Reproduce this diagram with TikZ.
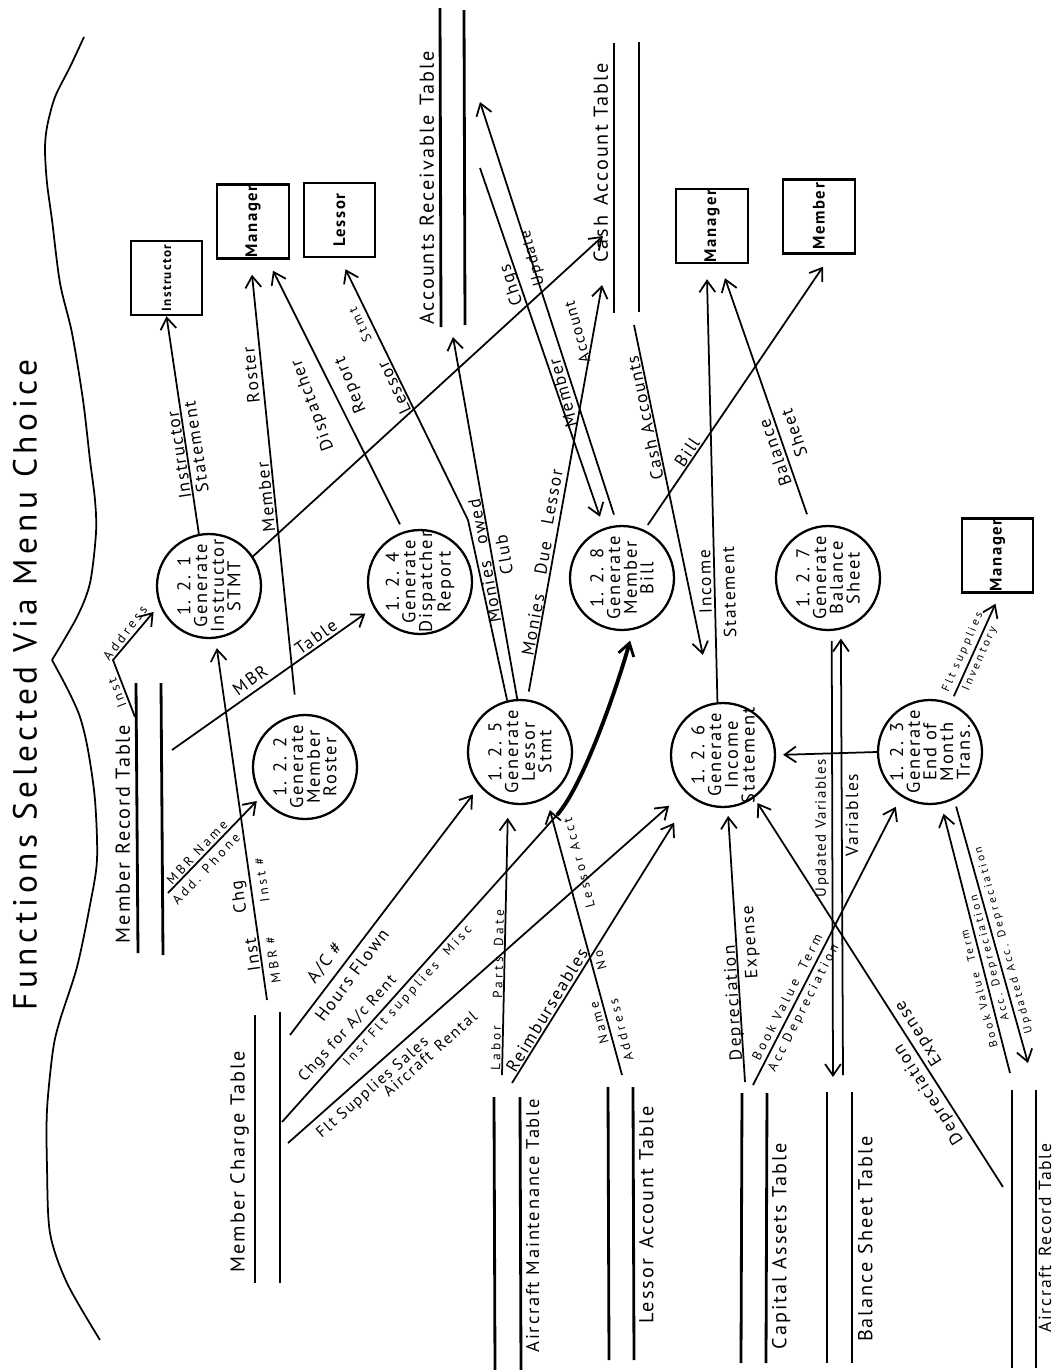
\documentclass[tikz,border=0pt]{standalone}
\usepackage{fontspec}
\setmainfont{PT Sans}
\newfontfamily\hand[LetterSpace=10]{PT Sans}
\newfontfamily\handw[LetterSpace=25]{PT Sans}
\newfontfamily\titlef[LetterSpace=14]{PT Sans}
\usetikzlibrary{arrows.meta,calc}
\begin{document}
\begin{tikzpicture}[x=0.02cm,y=-0.02cm,
 every node/.style={inner sep=0pt},
 flow/.style={line width=1pt,-{Straight Barb[length=6.5pt,width=9pt,line width=1pt]}},
 heavy/.style={line width=2.2pt,-{Straight Barb[length=7pt,width=9pt,line width=1.6pt]}},
 conn/.style={line width=1pt},
 proc/.style={circle,draw,line width=1.3pt,minimum size=2.08cm},
 ptext/.style={rotate=90,align=center,font=\hand\fontsize{10.5}{9.5}\selectfont},
 ent/.style={draw,line width=1.4pt,minimum width=1.43cm,minimum height=1.48cm},
 etext/.style={rotate=90,font=\hand\bfseries\fontsize{9.5}{10}\selectfont},
 storeline/.style={line width=1.6pt},
 slab/.style={rotate=90,inner sep=1.5pt,font=\hand\fontsize{11.5}{12}\selectfont},
 lab/.style={font=\hand\fontsize{10}{10}\selectfont},
 labm/.style={font=\hand\fontsize{9}{9}\selectfont},
 labs/.style={font=\handw\fontsize{7.5}{8}\selectfont},
 labt/.style={font=\handw\fontsize{6.5}{7}\selectfont},
 brace/.style={line width=1pt}]
\useasboundingbox (0,0) rectangle (1055,1370);

% title and brace
\node[rotate=90,font=\titlef\fontsize{19}{20}\selectfont] (title) at (25,685) {Functions Selected Via Menu Choice};
\draw[brace] plot[smooth] coordinates {(84,37) (70,67) (55,97) (47,127) (45,150) (47,183) (52,220) (60,283) (72,333) (83,400) (90,460) (95,500) (96,533) (90,583) (77,617) (52,660)};
\draw[brace] plot[smooth] coordinates {(52,660) (68,690) (80,717) (88,750) (95,800) (97,860) (90,905) (77,967) (60,1020) (53,1050) (47,1110) (47,1167) (50,1233) (67,1283) (100,1340)};

% processes
\node[proc] (c121) at (209,586) {};
\node[ptext] (t121) at (c121) {1. 2. 1\\Generate\\Instructor\\STMT};
\node[proc] (c122) at (305,767) {};
\node[ptext] (t122) at (c122) {1. 2. 2\\Generate\\Member\\Roster};
\node[proc] (c124) at (420,582) {};
\node[ptext] (t124) at (c124) {1. 2. 4\\Generate\\Dispatcher\\Report};
\node[proc] (c125) at (520,752) {};
\node[ptext] (t125) at (c125) {1. 2. 5\\Generate\\Lessor\\Stmt};
\node[proc] (c128) at (622,578) {};
\node[ptext] (t128) at (c128) {1. 2. 8\\Generate\\Member\\Bill};
\node[proc] (c126) at (723,755) {};
\node[ptext] (t126) at (c126) {1. 2. 6\\Generate\\Income\\Statement};
\node[proc] (c127) at (828,578) {};
\node[ptext] (t127) at (c127) {1. 2. 7\\Generate\\Balance\\Sheet};
\node[proc] (c123) at (930,752) {};
\node[ptext] (t123) at (c123) {1. 2. 3\\Generate\\End of\\Month\\Trans.};

% external entities
\node[ent] (bInstr) at (166.5,278) {};
\node[etext,font=\hand\bfseries\fontsize{7.5}{8}\selectfont] (tInstr) at (bInstr) {Instructor};
\node[ent] (bMgr1) at (253,221.5) {};
\node[etext] (tMgr1) at (bMgr1) {Manager};
\node[ent] (bLessor) at (339.5,220) {};
\node[etext] (tLessor) at (bLessor) {Lessor};
\node[ent] (bMgr2) at (712,226) {};
\node[etext] (tMgr2) at (bMgr2) {Manager};
\node[ent] (bMember) at (819,216.5) {};
\node[etext] (tMember) at (bMember) {Member};
\node[ent] (bMgr3) at (997.5,555.5) {};
\node[etext] (tMgr3) at (bMgr3) {Manager};

% data stores
\draw[storeline] (136,683) -- (138,953);
\draw[storeline] (161,683) -- (163,955);
\node[slab,anchor=south] (sMR) at (133,834) {Member Record Table};
\draw[storeline] (255,1015) -- (255,1283);
\draw[storeline] (280,1012) -- (280,1283);
\node[slab,anchor=south] (sMC) at (252,1162) {Member Charge Table};
\draw[storeline] (440,8) -- (441,327);
\draw[storeline] (464,10) -- (465,325);
\node[slab,anchor=south] (sAR) at (437,188) {Accounts Receivable\enspace Table};
\draw[storeline] (614,43) -- (614,313);
\draw[storeline] (639,42) -- (639,312);
\node[slab,anchor=south] (sCA) at (611,163) {Cash\enspace Account Table};
\draw[storeline] (494,1097) -- (495,1370);
\draw[storeline] (520,1097) -- (521,1370);
\node[slab,anchor=north,font=\hand\fontsize{10.5}{11}\selectfont] (sAM) at (523,1226) {Aircraft Maintenance Table};
\draw[storeline] (608,1087) -- (609,1360);
\draw[storeline] (633,1087) -- (634,1360);
\node[slab,anchor=north] (sLA) at (636,1215) {Lessor\enspace Account Table};
\draw[storeline] (742,1093) -- (741,1363);
\draw[storeline] (767,1093) -- (766,1363);
\node[slab,anchor=north] (sCAs) at (769,1246) {Capital Assets Table};
\draw[storeline] (827,1092) -- (827,1363);
\draw[storeline] (852,1092) -- (852,1363);
\node[slab,anchor=north] (sBS) at (855,1239) {Balance Sheet Table};
\draw[storeline] (1012,1090) -- (1012,1368);
\draw[storeline] (1036,1090) -- (1036,1368);
\node[slab,anchor=north,inner sep=0.5pt,font=\hand\fontsize{10}{10}\selectfont] (sARec) at (1037.5,1238) {Aircraft\enspace Record Table};

% free ends and bends
\coordinate (k4) at (468,520);
\coordinate (mrOut1) at (172,750);
\coordinate (mrOut2) at (135,717);
\coordinate (k6) at (113,660);
\coordinate (mrOut3) at (168,893);
\coordinate (mcOut1) at (267,1000);
\coordinate (mcOut2) at (290,1035);
\coordinate (mcOut3) at (282,1122);
\coordinate (k31) at (557,815);
\coordinate (mcOut4) at (288,1143);
\coordinate (caIn1) at (603,236);
\coordinate (arIn1) at (453,337);
\coordinate (caIn2) at (602,285);
\coordinate (arOut) at (480,168);
\coordinate (arIn2) at (480,102);
\coordinate (caOut) at (634,325);
\coordinate (bsIn) at (833,1077);
\coordinate (bsOut) at (843,1075);
\coordinate (arcOut1) at (1010,1073);
\coordinate (arcIn) at (1028,1063);
\coordinate (capOut1) at (745,1082);
\coordinate (capOut2) at (753,1085);
\coordinate (arcOut2) at (1003,1187);
\coordinate (amOut1) at (502,1075);
\coordinate (amOut2) at (512,1083);
\coordinate (laOut) at (622,1075);

% connectors
\draw[flow] (c121.101) -- (bInstr.south);
\draw[flow,shorten <=0.4cm] (c122.99) -- ($(bMgr1.south)+(-1,15)$);
\draw[flow,shorten <=0.16cm] (c124.108) -- ($(bMgr1.south)+(20,11)$);
\draw[flow] (c125.104) -- (k4) -- ($(bLessor.south)+(6,11)$);
\draw[flow,shorten >=0.2cm] (mrOut1) -- (c124.209);
\draw[flow,shorten >=0.18cm] (mrOut2) -- (k6) -- (c121.201);
\draw[flow,shorten >=0.12cm] (mrOut3) -- (c122.214);
\draw[flow,shorten >=0.19cm] (mcOut1) -- (c121.277);
\draw[flow] (c121.34) -- (caIn1);
\draw[flow] (c125.93) -- (arIn1);
\draw[flow,shorten <=0.16cm] (c125.82) -- (caIn2);
\draw[flow,shorten >=0.24cm] (arOut) -- (c128.110);
\draw[flow,shorten <=0.22cm] (c128.95) -- (arIn2);
\draw[flow,shorten >=0.98cm] (caOut) -- (c126.101);
\draw[flow] (c126.96) -- ($(bMgr2.south)+(-5,15)$);
\draw[flow,shorten <=0.12cm] (c128.65) -- ($(bMember.south)+(4,12)$);
\draw[flow,shorten <=0.28cm] (c127.108) -- ($(bMgr2.south)+(13,14)$);
\draw[flow,shorten <=0.2cm] (c127.274) -- (bsIn);
\draw[flow,shorten >=0.18cm] (bsOut) -- (c127.284);
\draw[flow,shorten >=0.14cm] (c123.west) -- (c126.east);
\draw[flow,shorten <=0.15cm] (c123.67) -- ($(bMgr3.south)+(-2,10)$);
\draw[flow,shorten >=0.2cm] (arcOut1) -- (c123.282);
\draw[flow,shorten <=0.15cm] (c123.297) -- (arcIn);
\draw[flow,shorten >=0.16cm] (capOut1) -- (c126.275);
\draw[flow,shorten >=0.23cm] (capOut2) -- (c123.237);
\draw[flow,shorten >=0.12cm] (arcOut2) -- (c126.306);
\draw[flow,shorten >=0.28cm] (amOut1) -- (c125.257);
\draw[flow,shorten >=0.61cm] (amOut2) -- (c126.232);
\draw[flow,shorten >=0.42cm] (mcOut4) -- (c126.224);
\draw[flow,shorten >=0.21cm] (mcOut2) -- (c125.220);
\draw[flow,shorten >=0.25cm] (laOut) -- (c125.300);
\draw[conn] (mcOut3) -- (k31);
\draw[heavy,shorten >=0.22cm] (k31) .. controls (584,785) and (619,681) .. (c128.282);

% connector labels
\node[lab,rotate=98.5] (l1a) at (179,455) {Instructor};
\node[lab,rotate=98.5] (l1b) at (196,447) {Statement};
\node[lab,rotate=95.6] (l2a) at (266,497) {Member};
\node[lab,rotate=95.6] (l2b) at (251,375) {Roster};
\node[lab,rotate=110] (l3a) at (313,405) {Dispatcher};
\node[lab,rotate=112] (l3b) at (351,385) {Report};
\node[lab,rotate=115.5] (l4a) at (394,388) {Lessor};
\node[labs,rotate=115.5] (l4b) at (360,325) {Stmt};
\node[lab,rotate=35.6] (l5a) at (250,680) {MBR};
\node[lab,rotate=35.6] (l5b) at (316,637) {Table};
\node[labs,rotate=111] (l6a) at (117,693) {Inst};
\node[labs,rotate=53] (l6b) at (125,633) {Address};
\node[labs,rotate=47] (l7a) at (197,852) {MBR Name};
\node[labs,rotate=47] (l7b) at (206,869) {Add. Phone};
\node[lab,rotate=98] (l8a) at (252,955) {Inst};
\node[lab,rotate=98] (l8b) at (240,897) {Chg};
\node[labs,rotate=98] (l8c) at (273,960) {MBR \#};
\node[labs,rotate=98] (l8d) at (262,880) {Inst \#};
\node[lab,rotate=53.2] (l9a) at (325,963) {A/C \#};
\node[lab,rotate=53.2] (l9b) at (352,975) {Hours Flown};
\node[labm,rotate=47.8] (l10a) at (348,1029) {Chgs for A/c Rent};
\node[labs,rotate=47.8] (l10b) at (408,996) {Insr\enspace Flt supplies\quad Misc};
\node[labm,rotate=41.5] (l11a) at (373,1088) {Flt Supplies Sales};
\node[labm,rotate=41.5] (l11b) at (430,1054) {Aircraft\enspace Rental};
\node[lab,rotate=58.8] (l12) at (547,1010) {Reimburseables};
\node[labs,rotate=88.7] (l13a) at (496,1048) {Labor};
\node[labs,rotate=88.7] (l13b) at (498,978) {Parts};
\node[labs,rotate=88.7] (l13c) at (499,928) {Date};
\node[labs,rotate=104.7] (l14a) at (599,1023) {Name};
\node[labs,rotate=104.7] (l14b) at (621,1030) {Address};
\node[labs,rotate=104.7] (l14c) at (600,960) {No};
\node[labs,rotate=104.7] (l14d) at (579,863) {Lessor Acct};
\node[lab,rotate=100] (l15a) at (490,592) {Monies};
\node[lab,rotate=100] (l15b) at (478,522) {owed};
\node[lab,rotate=100] (l15c) at (504,555) {Club};
\node[lab,rotate=79.7] (l16a) at (533,625) {Monies};
\node[lab,rotate=79.7] (l16b) at (543,558) {Due};
\node[lab,rotate=79.7] (l16c) at (552,497) {Lessor};
\node[lab,rotate=108.9] (l17) at (512,285) {Chgs};
\node[lab,rotate=105] (l18a) at (563,393) {Member};
\node[labm,rotate=105] (l18b) at (577,332) {Account};
\node[labm,rotate=105] (l18c) at (533,258) {Update};
\node[lab,rotate=101.8] (l19) at (645,418) {Cash Accounts};
\node[lab,rotate=56] (l20) at (687,452) {Bill};
\node[lab,rotate=91.4] (l21a) at (705,582) {Income};
\node[lab,rotate=91.4] (l21b) at (729,592) {Statement};
\node[lab,rotate=109] (l22a) at (775,453) {Balance};
\node[lab,rotate=109] (l22b) at (794,433) {Sheet};
\node[font=\hand\fontsize{8.5}{9}\selectfont,rotate=90] (l23a) at (822,828) {Updated Variables};
\node[lab,rotate=90] (l23b) at (852,815) {Variables};
\node[labt,rotate=66] (l24a) at (963,652) {Flt supplies};
\node[labt,rotate=66] (l24b) at (980,659) {Inventory};
\node[labt,rotate=104.4] (l25a) at (979,989) {Book Value\quad Term};
\node[labt,rotate=104.4] (l25b) at (990,958) {Acc. Depreciation};
\node[labt,rotate=105.4] (l26) at (1004,940) {Updated Acc. Depreciation};
\node[lab,rotate=93.6] (l27a) at (734,1003) {Depreciation};
\node[lab,rotate=93.6] (l27b) at (751,942) {Expense};
\node[labs,rotate=63.1] (l28a) at (787,997) {Book Value\quad Term};
\node[labs,rotate=63.1] (l28b) at (804,1008) {Acc Depreciation};
\node[lab,rotate=122.6] (l29a) at (929,1094) {Depreciation};
\node[lab,rotate=122.6] (l29b) at (919,1033) {Expense};
\end{tikzpicture}
\end{document}
